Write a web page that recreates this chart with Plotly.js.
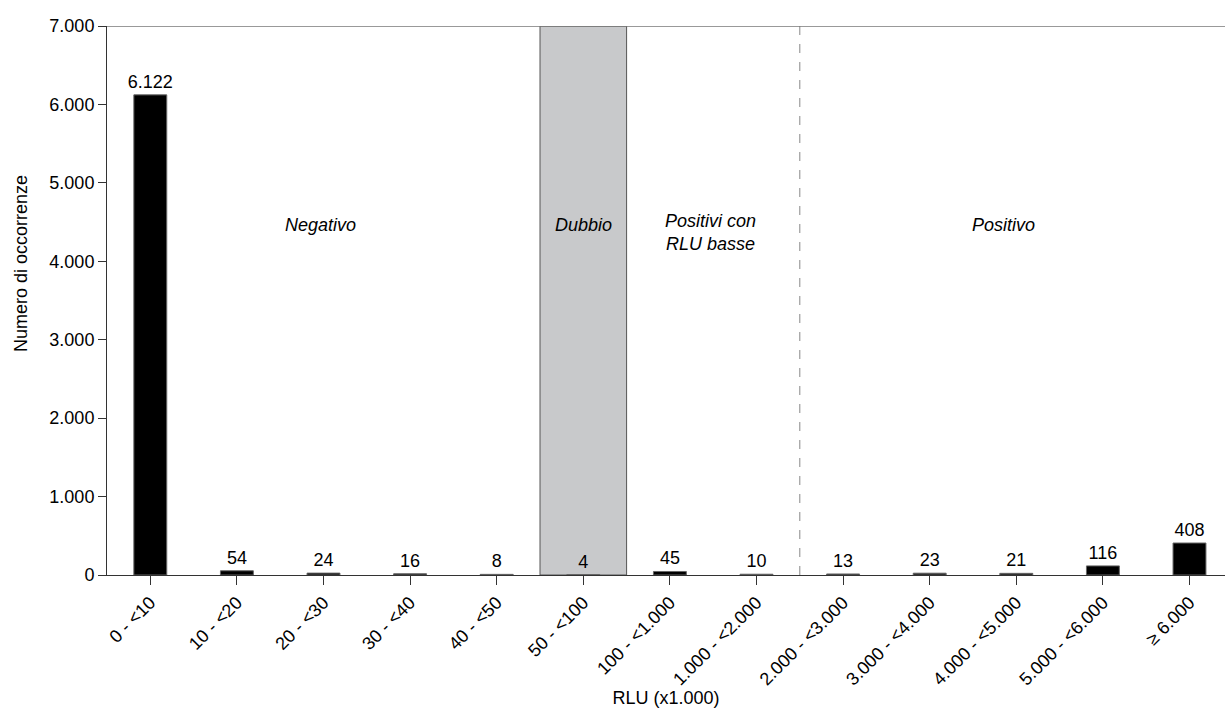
<!DOCTYPE html>
<html>
<head>
<meta charset="utf-8">
<script src="https://cdn.plot.ly/plotly-3.0.1.min.js"></script>
<style>html,body{margin:0;padding:0;background:#fff;}#chart{width:1225px;height:708px;}</style>
</head>
<body>
<div id="chart"></div>
<script>
const categories = ["0 - <10","10 - <20","20 - <30","30 - <40","40 - <50","50 - <100","100 - <1.000","1.000 - <2.000","2.000 - <3.000","3.000 - <4.000","4.000 - <5.000","5.000 - <6.000","≥ 6.000"];
const counts = [6122, 54, 24, 16, 8, 4, 45, 10, 13, 23, 21, 116, 408];
const countLabels = ["6.122","54","24","16","8","4","45","10","13","23","21","116","408"];
const zoneLabels = ["<i>Negativo</i>","<i>Dubbio</i>","<i>Positivi con<br>RLU basse</i>","<i>Positivo</i>"];
const zoneX = [1.96, 5, 6.47, 9.85];
const zoneY = [4460, 4460, 4371, 4460];

const font = "Liberation Sans, Arial, sans-serif";
const FS = 18;

const trace = {
  type: "bar",
  x: categories.map((c,i)=>i),
  y: counts,
  width: 0.38,
  marker: {color: "#000", line: {color: "#666", width: 1}},
  text: countLabels,
  textposition: "outside",
  constraintext: "none",
  textfont: {family: font, size: FS, color: "#000"},
  cliponaxis: false,
  hoverinfo: "skip"
};

const annotations = zoneLabels.map((t,i)=>({
  x: zoneX[i], y: zoneY[i], xref: "x", yref: "y", text: t, showarrow: false,
  font: {family: font, size: FS, color: "#000"}, align: "center"
}));
annotations.push({
  x: 0, y: (575-264)/549, xref: "paper", yref: "paper", xshift: -86, textangle: -90,
  xanchor: "center", yanchor: "middle",
  text: "Numero di occorrenze", showarrow: false, font: {family: font, size: FS, color: "#000"}
});

const layout = {
  width: 1225, height: 708,
  margin: {l: 107, r: 0, t: 26, b: 133},
  paper_bgcolor: "#fff", plot_bgcolor: "#fff",
  separators: ",.",
  showlegend: false,
  font: {family: font, size: FS, color: "#000"},
  xaxis: {
    range: [-0.5, 12.41],
    tickmode: "array",
    tickvals: categories.map((c,i)=>i),
    ticktext: categories,
    tickangle: -45,
    tickson: "boundaries",
    ticks: "outside", ticklen: 9, tickcolor: "#333", tickwidth: 1,
    showline: true, linecolor: "#333", linewidth: 1,
    showgrid: false, zeroline: false,
    automargin: false,
    tickfont: {family: font, size: FS, color: "#000"},
    title: {text: "RLU (x1.000)", font: {family: font, size: FS, color: "#000"}, standoff: 8}
  },
  yaxis: {
    range: [0, 7000],
    tickvals: [0,1000,2000,3000,4000,5000,6000,7000],
    tickformat: ",d",
    ticks: "outside", ticklen: 8, tickcolor: "#333", tickwidth: 1,
    showline: true, linecolor: "#333", linewidth: 1,
    showgrid: false, zeroline: false,
    automargin: false,
    tickfont: {family: font, size: FS, color: "#000"}
  },
  shapes: [
    {type: "rect", xref: "x", yref: "y", x0: 4.5, x1: 5.5, y0: 0, y1: 7000,
     fillcolor: "#c8c9cb", line: {color: "#555", width: 1}, layer: "below"},
    {type: "line", xref: "x", yref: "y", x0: 7.5, x1: 7.5, y0: 0, y1: 7000,
     line: {color: "#888", width: 1, dash: "dash"}, layer: "below"},
    {type: "line", xref: "paper", yref: "y", x0: 0, x1: 1, y0: 7000, y1: 7000,
     line: {color: "#777", width: 1.5}}
  ],
  annotations: annotations
};

Plotly.newPlot("chart", [trace], layout, {displayModeBar: false, staticPlot: true});
</script>
</body>
</html>
